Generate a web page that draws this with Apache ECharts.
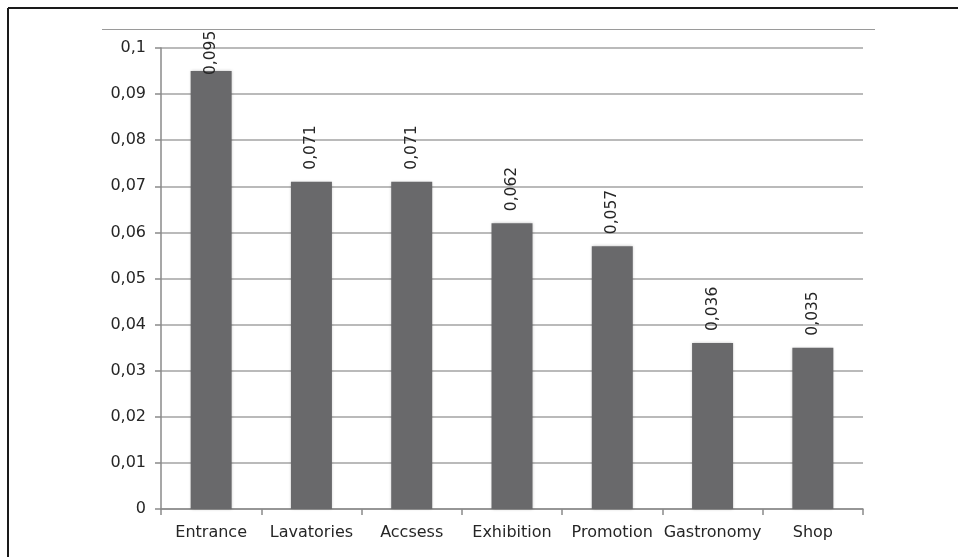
<!DOCTYPE html>
<html>
<head>
<meta charset="utf-8">
<script src="https://cdn.jsdelivr.net/npm/echarts@6/dist/echarts.min.js"></script>
<style>
  html, body { margin: 0; padding: 0; background: #fff; }
  #chart { width: 958px; height: 557px; }
</style>
</head>
<body>
<div id="chart"></div>
<script>
// Categories and their scores
const categories = ['Entrance', 'Lavatories', 'Accsess', 'Exhibition', 'Promotion', 'Gastronomy', 'Shop'];
const values = [0.095, 0.071, 0.071, 0.062, 0.057, 0.036, 0.035];
const yTicks = { min: 0, max: 0.1, interval: 0.01 };

const comma = s => String(s).replace('.', ',');
const fmtTick = v => {
  if (v === 0) return '0';
  return comma(v.toFixed(2).replace(/0$/, ''));
};

const chart = echarts.init(document.getElementById('chart'), null, { renderer: 'canvas' });

const font = 'DejaVu Sans, Verdana, sans-serif';
const textColor = '#262626';

chart.setOption({
  animation: false,
  backgroundColor: '#ffffff',
  grid: { left: 161, right: 95, top: 48, bottom: 48, containLabel: false },
  graphic: [
    // outer frame (top and left edges)
    { type: 'line', shape: { x1: 8, y1: 8, x2: 958, y2: 8 }, style: { stroke: '#1a1a1a', lineWidth: 2 } },
    { type: 'line', shape: { x1: 8, y1: 8, x2: 8, y2: 557 }, style: { stroke: '#1a1a1a', lineWidth: 2 } },
    // chart area top rule
    { type: 'line', shape: { x1: 102, y1: 29.5, x2: 875, y2: 29.5 }, style: { stroke: '#9a9a9a', lineWidth: 1.2 } }
  ],
  xAxis: {
    type: 'category',
    data: categories,
    axisLine: { lineStyle: { color: '#8a8a8a', width: 1.5 } },
    axisTick: { show: true, length: 6, lineStyle: { color: '#8a8a8a', width: 1.5 } },
    axisLabel: { color: textColor, fontFamily: font, fontSize: 16, margin: 16, interval: 0 }
  },
  yAxis: {
    type: 'value',
    min: yTicks.min,
    max: yTicks.max,
    interval: yTicks.interval,
    axisLine: { show: true, lineStyle: { color: '#8a8a8a', width: 1.5 } },
    axisTick: { show: true, length: 6, lineStyle: { color: '#8a8a8a', width: 1.5 } },
    splitLine: { show: true, lineStyle: { color: '#a3a3a3', width: 1.5 } },
    axisLabel: { color: textColor, fontFamily: font, fontSize: 16, margin: 15, formatter: fmtTick }
  },
  series: [{
    type: 'bar',
    barWidth: 41,
    data: values.map((v, i) => i === 0
      ? { value: v, label: { distance: -4 } }
      : v),
    itemStyle: {
      color: '#69696b',
      shadowColor: 'rgba(0,0,0,0.25)',
      shadowBlur: 3
    },
    label: {
      show: true,
      position: 'top',
      rotate: 90,
      align: 'left',
      verticalAlign: 'middle',
      distance: 12,
      color: textColor,
      fontFamily: font,
      fontSize: 15.5,
      formatter: p => comma(p.value)
    }
  }]
});
</script>
</body>
</html>
